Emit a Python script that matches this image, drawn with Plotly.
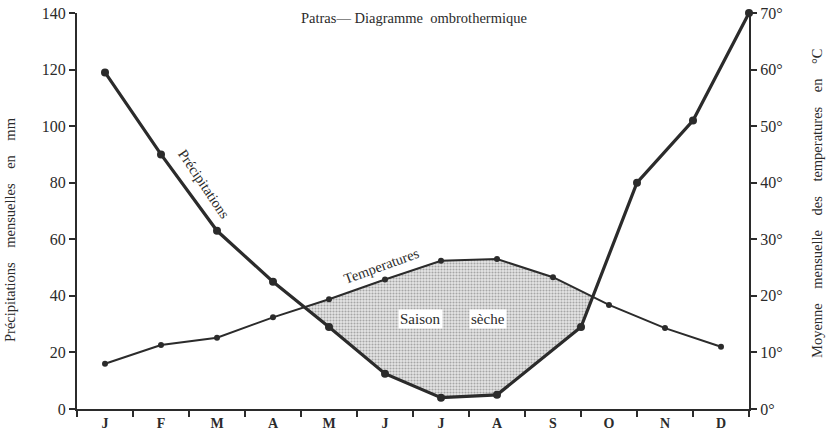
import plotly.graph_objects as go
import numpy as np

# ---------------- data ----------------
months = ["J", "F", "M", "A", "M", "J", "J", "A", "S", "O", "N", "D"]
month_pos = list(range(12))
precip_mm = [119, 90, 63, 45, 29, 12.5, 4, 5, 29, 80, 102, 140]
precip_pos = [0, 1, 2, 3, 4, 5, 6, 7, 8.5, 9.5, 10.5, 11.5]
temp_c = [8, 11.3, 12.6, 16.2, 19.4, 22.9, 26.2, 26.5, 23.3, 18.4, 14.3, 11.0]
left_ticks = [0, 20, 40, 60, 80, 100, 120, 140]
right_ticks = [0, 10, 20, 30, 40, 50, 60, 70]
right_ticklabels = [f"{v}°" for v in right_ticks]

INK = "#2b2b2b"
SERIF = "Liberation Serif"

# ---------------- dry season polygon (where 2T > P) ----------------
tx = np.array(month_pos, float)
ty = 2 * np.array(temp_c, float)
px = np.array(precip_pos, float)
py = np.array(precip_mm, float)


def intersections(x1, y1, x2, y2):
    out = []
    for i in range(len(x1) - 1):
        p = np.array([x1[i], y1[i]])
        r = np.array([x1[i + 1] - x1[i], y1[i + 1] - y1[i]])
        for j in range(len(x2) - 1):
            q = np.array([x2[j], y2[j]])
            s = np.array([x2[j + 1] - x2[j], y2[j + 1] - y2[j]])
            den = r[0] * s[1] - r[1] * s[0]
            if abs(den) < 1e-12:
                continue
            d = q - p
            t = (d[0] * s[1] - d[1] * s[0]) / den
            u = (d[0] * r[1] - d[1] * r[0]) / den
            if 0 <= t <= 1 and 0 <= u <= 1:
                out.append(p + t * r)
    out.sort(key=lambda v: v[0])
    return out


cross = intersections(tx, ty, px, py)
xl, xr = cross[0], cross[-1]
poly_x = [xl[0]] + [x for x in tx if xl[0] < x < xr[0]] + [xr[0]]
poly_y = [xl[1]] + [y for x, y in zip(tx, ty) if xl[0] < x < xr[0]] + [xr[1]]
inner_p = [(x, y) for x, y in zip(px, py) if xl[0] < x < xr[0]][::-1]
poly_x += [x for x, _ in inner_p] + [xl[0]]
poly_y += [y for _, y in inner_p] + [xl[1]]

fig = go.Figure()

fig.add_trace(go.Scatter(
    x=poly_x, y=poly_y, mode="lines", fill="toself",
    line=dict(width=0, color="rgba(0,0,0,0)"),
    fillcolor="#d8d8d8",
    fillpattern=dict(shape=".", size=3, solidity=0.4, fgcolor="#666666", bgcolor="#e6e6e6"),
    hoverinfo="skip", showlegend=False,
))

fig.add_trace(go.Scatter(
    x=month_pos, y=temp_c, yaxis="y2", mode="lines+markers",
    line=dict(color=INK, width=2), marker=dict(color=INK, size=6),
    showlegend=False, cliponaxis=False,
))

fig.add_trace(go.Scatter(
    x=precip_pos, y=precip_mm, mode="lines+markers",
    line=dict(color=INK, width=3.2), marker=dict(color=INK, size=8),
    showlegend=False, cliponaxis=False,
))

fig.update_layout(
    width=828, height=436,
    margin=dict(l=77, r=79, t=13, b=27),
    paper_bgcolor="white", plot_bgcolor="white",
    font=dict(family=SERIF, color=INK, size=14),
    xaxis=dict(
        range=[-0.5, 11.5], tickvals=month_pos, ticktext=[f"<b>{m}</b>" for m in months],
        ticks="",
        minor=dict(tick0=-0.5, dtick=1, ticks="outside", ticklen=6, tickcolor=INK, tickwidth=1.5),
        showline=True, linecolor=INK, linewidth=2, showgrid=False, zeroline=False,
        tickfont=dict(family=SERIF, size=14, color=INK), automargin=False,
    ),
    yaxis=dict(
        range=[0, 140], tickvals=left_ticks, ticks="outside", ticklen=6, tickwidth=1.5,
        tickcolor=INK, showline=True, linecolor=INK, linewidth=2, showgrid=False,
        zeroline=False, tickfont=dict(family=SERIF, size=16, color=INK), automargin=False,
    ),
    yaxis2=dict(
        overlaying="y", side="right", range=[0, 70], tickvals=right_ticks,
        ticktext=right_ticklabels, ticks="outside", ticklen=6, tickwidth=1.5,
        tickcolor=INK, showline=True, linecolor=INK, linewidth=2, showgrid=False,
        zeroline=False, tickfont=dict(family=SERIF, size=16, color=INK), automargin=False,
    ),
)

W, H, L, T = 672.0, 396.0, 77.0, 13.0


def pap(xp, yp):
    return (xp - L) / W, (T + H - yp) / H


sp = "\u00a0\u00a0\u00a0\u00a0"
annots = [
    ("Patras\u2014\u00a0Diagramme\u00a0\u00a0ombrothermique", 414, 18, 0, 14.5, None),
    (f"Précipitations{sp}mensuelles{sp}en{sp}mm", 10, 230, -90, 14.5, None),
    (f"Moyenne{sp}mensuelle{sp}des{sp}temperatures{sp}en{sp}°C", 817, 204, -90, 14.5, None),
    ("Précipitations", 204, 184, 56, 14.5, None),
    ("Temperatures", 381, 266, -20, 14.5, None),
    ("Saison", 420, 319, 0, 15, "white"),
    ("sèche", 488, 319, 0, 15, "white"),
]
for text, xp, yp, ang, size, bg in annots:
    ax_, ay_ = pap(xp, yp)
    fig.add_annotation(
        x=ax_, y=ay_, xref="paper", yref="paper", text=text, showarrow=False,
        textangle=ang, xanchor="center", yanchor="middle",
        font=dict(family=SERIF, size=size, color=INK),
        bgcolor=bg if bg else "rgba(0,0,0,0)", borderpad=1,
    )

fig.write_html(
    "out.html",
    config={"displayModeBar": False},
    post_script="document.body.style.margin='0';document.body.style.padding='0';document.documentElement.style.overflow='hidden';",
)
